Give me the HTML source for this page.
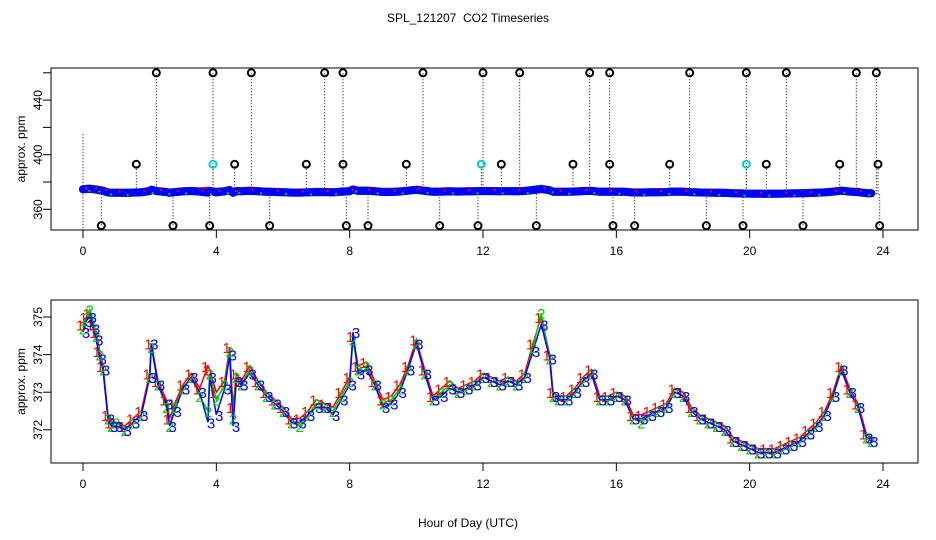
<!DOCTYPE html>
<html><head><meta charset="utf-8"><style>
body{margin:0;background:#fff;width:936px;height:540px;overflow:hidden}
svg{display:block;font-family:"Liberation Sans",sans-serif}
</style></head><body>
<svg id="c" width="936" height="540">
<text x="468" y="22" text-anchor="middle" font-size="12" style="white-space:pre">SPL_121207  CO2 Timeseries</text>
<text x="468" y="527" text-anchor="middle" font-size="12">Hour of Day (UTC)</text>
</svg>
<script>
const hours=[0,0.1,0.2,0.3,0.4,0.5,0.6,0.75,0.85,1,1.25,1.5,1.75,2,2.05,2.25,2.5,2.6,2.75,3,3.25,3.5,3.75,3.8,4,4.25,4.4,4.5,4.6,4.75,5,5.25,5.5,5.75,6,6.25,6.5,6.75,7,7.25,7.5,7.75,8,8.1,8.25,8.5,8.75,9,9.25,9.5,9.75,10,10.25,10.5,10.75,11,11.25,11.5,11.75,12,12.25,12.5,12.75,13,13.25,13.5,13.75,14,14.1,14.25,14.5,14.75,15,15.25,15.5,15.75,16,16.25,16.5,16.75,17,17.25,17.5,17.75,18,18.25,18.5,18.75,19,19.25,19.5,19.75,20,20.25,20.5,20.75,21,21.25,21.5,21.75,22,22.25,22.5,22.75,23,23.25,23.5,23.65];
const s1=[374.8,375.0,375.1,374.8,374.6,374.1,373.7,372.4,372.2,372.2,372.1,372.3,372.5,373.5,374.3,373.3,372.8,372.3,372.7,373.2,373.5,373.1,373.7,373.6,373.0,373.3,374.2,372.6,373.5,373.3,373.7,373.3,373.0,372.8,372.6,372.3,372.3,372.5,372.8,372.7,372.6,373.0,373.4,374.5,373.7,373.8,373.3,372.8,372.9,373.2,373.7,374.4,373.6,372.9,373.1,373.3,373.1,373.2,373.3,373.5,373.4,373.3,373.4,373.3,373.5,374.3,375.0,374.0,373.0,372.9,372.9,373.1,373.4,373.6,372.9,372.9,373.0,372.9,372.4,372.4,372.5,372.6,372.7,373.1,373.0,372.6,372.4,372.3,372.2,372.1,371.8,371.7,371.6,371.5,371.5,371.5,371.6,371.7,371.8,372.0,372.2,372.5,373.0,373.7,373.1,372.7,371.9,371.8];
const s2=[374.7,375.0,375.2,374.9,374.5,374.0,373.6,372.3,372.1,372.2,372.0,372.2,372.4,373.4,374.2,373.2,372.6,372.1,372.6,373.1,373.4,372.9,372.5,373.5,372.8,373.2,374.1,372.3,373.4,373.2,373.6,373.2,372.9,372.7,372.5,372.2,372.1,372.4,372.7,372.6,372.5,372.9,373.3,374.4,373.6,373.7,373.2,372.7,372.8,373.1,373.6,374.3,373.5,372.8,373.0,373.2,373.0,373.1,373.2,373.4,373.3,373.2,373.3,373.2,373.4,374.2,375.1,373.9,372.9,372.8,372.8,373.0,373.3,373.5,372.8,372.8,372.9,372.8,372.3,372.2,372.4,372.5,372.6,373.0,372.9,372.5,372.3,372.2,372.1,372.0,371.7,371.6,371.5,371.4,371.4,371.4,371.5,371.6,371.7,371.9,372.1,372.4,372.9,373.6,373.0,372.6,371.8,371.7];
const s3=[374.6,374.9,375.0,374.7,374.4,373.9,373.6,372.3,372.1,372.1,372.0,372.2,372.4,373.4,374.3,373.2,372.7,372.1,372.5,373.1,373.4,373.0,372.2,373.4,372.4,373.1,374.0,372.1,373.3,373.2,373.5,373.2,372.9,372.7,372.5,372.2,372.2,372.4,372.6,372.6,372.4,372.8,373.2,374.6,373.5,373.6,373.2,372.6,372.7,373.0,373.6,374.3,373.5,372.8,372.9,373.1,373.0,373.1,373.2,373.4,373.3,373.2,373.3,373.2,373.4,374.1,374.8,373.9,372.9,372.8,372.8,373.0,373.3,373.5,372.8,372.8,372.9,372.8,372.3,372.3,372.4,372.5,372.6,373.0,372.9,372.5,372.3,372.2,372.1,372.0,371.7,371.6,371.5,371.4,371.4,371.4,371.5,371.6,371.7,371.9,372.1,372.4,372.9,373.6,373.0,372.6,371.8,371.7];
const highHours=[2.2,3.9,5.05,7.25,7.8,10.2,12.0,13.1,15.2,15.8,18.2,19.9,21.1,23.2,23.8];
const highVals=[460,460,460,460,460,460,460,460,460,460,460,460,460,460,460];
const midHours=[1.6,4.55,6.7,7.8,9.7,12.55,14.7,15.8,17.6,20.5,22.7,23.85];
const midVals=[393,393,393,393,393,393,393,393,393,393,393,393];
const cyanHours=[3.9,11.95,19.9];
const cyanVals=[393,393,393];
const lowHours=[0.55,2.7,3.8,5.6,7.9,8.55,10.7,11.85,13.6,15.9,16.55,18.7,19.8,21.6,23.9];
const lowVals=[348,348,348,348,348,348,348,348,348,348,348,348,348,348,348];
const xTicks=[0,4,8,12,16,20,24];
const topYTicks=[360,380,400,420,440,460];
const topYLabels=[360,400,440];
const botYTicks=[372,373,374,375];

const svg=document.getElementById('c');const NS='http://www.w3.org/2000/svg';
function mk(t,a,p){const e=document.createElementNS(NS,t);for(const k in a)e.setAttribute(k,a[k]);(p||svg).appendChild(e);return e;}
const X=h=>83+h*(800/24);
const Yt=v=>182-(v-380)*(27.3/20);
const Yb=v=>317-(v-375)*37.6;
const colors=['#f00','#0c0','#00f'];
const series=[s1,s2,s3];

function frame(top,bot,name){
  const b=mk('rect',{x:51,y:top,width:867,height:bot-top,fill:'none',stroke:'#000','stroke-width':1});
  
  
  xTicks.forEach(t=>{
    const l=mk('line',{x1:X(t),x2:X(t),y1:bot,y2:bot+8,stroke:'#000'});
    
    
    const tx=mk('text',{x:X(t),y:bot+25,'text-anchor':'middle','font-size':12});
    tx.textContent=t;
    
    
  });
  const yl=mk('text',{x:0,y:0,'text-anchor':'middle','font-size':12,transform:`translate(25,${(top+bot)/2}) rotate(-90)`});
  yl.textContent='approx. ppm';
  
  
}
frame(68,230,'top');frame(300,463,'bottom');
topYTicks.forEach(v=>{
  const l=mk('line',{x1:43,x2:51,y1:Yt(v),y2:Yt(v),stroke:'#000'});
  
  
});
topYLabels.forEach(v=>{
  const t=mk('text',{x:0,y:0,'text-anchor':'middle','font-size':12,transform:`translate(42,${Yt(v)}) rotate(-90)`});
  t.textContent=v;
  
  
});
botYTicks.forEach(v=>{
  const l=mk('line',{x1:43,x2:51,y1:Yb(v),y2:Yb(v),stroke:'#000'});
  
  
  const t=mk('text',{x:0,y:0,'text-anchor':'middle','font-size':12,transform:`translate(42,${Yb(v)}) rotate(-90)`});
  t.textContent=v;
  
  
});
function outliers(hs,vs,col,nm){
  hs.forEach((h,i)=>{
    const l=mk('line',{x1:X(h),x2:X(h),y1:Yt(371),y2:Yt(vs[i]),stroke:'#000','stroke-dasharray':'1,2','stroke-width':1});
    
    
    const c=mk('circle',{cx:X(h),cy:Yt(vs[i]),r:3.5,fill:'none',stroke:col,'stroke-width':2});
    
    
  });
}
outliers(highHours,highVals,'#000','high-outlier');
outliers(lowHours,lowVals,'#000','low-outlier');
outliers(midHours,midVals,'#000','mid-outlier');
outliers(cyanHours,cyanVals,'#0cc','cyan-outlier');
const z=mk('line',{x1:X(0),x2:X(0),y1:Yt(415),y2:Yt(343),stroke:'#000','stroke-dasharray':'1,2'});


series.forEach((s,k)=>{
  const d=s.map((v,i)=>(i?'L':'M')+X(hours[i]).toFixed(1)+','+Yt(v).toFixed(1)).join('');
  const p=mk('path',{d:d,fill:'none',stroke:colors[k],'stroke-width':k==2?8:8,'stroke-linecap':'round','stroke-linejoin':'round'});
  
  
});
[0,1].forEach(k=>{
  series[k].forEach((v,i)=>{
    if(i%3!==k)return;
    const c=mk('rect',{x:X(hours[i])+2,y:Yt(v)-2+k*3,width:2,height:2,fill:colors[k]});
    
    
  });
});
series.forEach((s,k)=>{
  const d=s.map((v,i)=>(i?'L':'M')+X(hours[i]).toFixed(1)+','+Yb(v).toFixed(1)).join('');
  const p=mk('path',{d:d,fill:'none',stroke:colors[k],'stroke-width':1.5});
  
  
});
series.forEach((s,k)=>{
  s.forEach((v,i)=>{
    const t=mk('text',{x:X(hours[i])+(k-1)*3,y:Yb(v)+6,'text-anchor':'middle','font-size':15,fill:colors[k]});
    t.textContent=String(k+1);
    
    
  });
});
</script>
</body></html>
